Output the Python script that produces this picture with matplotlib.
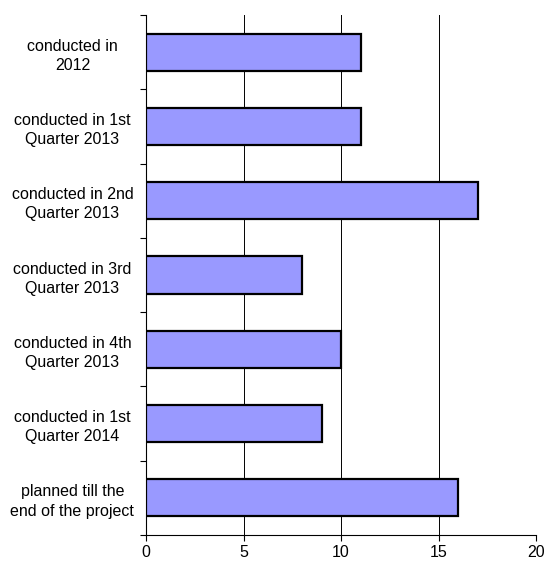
import matplotlib
matplotlib.use("Agg")
import matplotlib.pyplot as plt
import numpy as np

plt.rcParams["font.family"] = ["Liberation Sans", "DejaVu Sans"]

categories = [
    "conducted in\n2012",
    "conducted in 1st\nQuarter 2013",
    "conducted in 2nd\nQuarter 2013",
    "conducted in 3rd\nQuarter 2013",
    "conducted in 4th\nQuarter 2013",
    "conducted in 1st\nQuarter 2014",
    "planned till the\nend of the project",
]
values = [11, 11, 17, 8, 10, 9, 16]
x_ticks = [0, 5, 10, 15, 20]

fig = plt.figure(figsize=(5.46, 5.66), dpi=100)
ax = fig.add_axes([146 / 546, 1 - 535 / 566, 390 / 546, 520 / 566])

y = np.arange(len(categories))
ax.barh(y, values, height=0.5, color="#9999ff", edgecolor="black", linewidth=1.6, zorder=3)

ax.set_xlim(0, 20)
ax.set_ylim(len(categories) - 0.5, -0.5)
ax.set_xticks(x_ticks)
ax.set_xticklabels([str(t) for t in x_ticks], fontsize=11.5)
ax.xaxis.grid(True, color="black", linewidth=0.7, zorder=0)

# category labels sit between tick marks at the boundaries
ax.set_yticks(np.arange(len(categories) + 1) - 0.5)
ax.set_yticklabels([])
ax.set_yticks(y, minor=True)
ax.set_yticklabels(categories, minor=True, fontsize=11.5, ha="center", linespacing=1.35)
ax.tick_params(axis="y", which="minor", length=0, pad=53)
ax.tick_params(axis="y", which="major", length=4, width=0.8)
ax.tick_params(axis="x", length=4, width=0.8, pad=3)

for side in ["top", "right"]:
    ax.spines[side].set_visible(False)
ax.spines["left"].set_linewidth(0.8)
ax.spines["bottom"].set_linewidth(0.8)

fig.savefig("out.png", dpi=100)
